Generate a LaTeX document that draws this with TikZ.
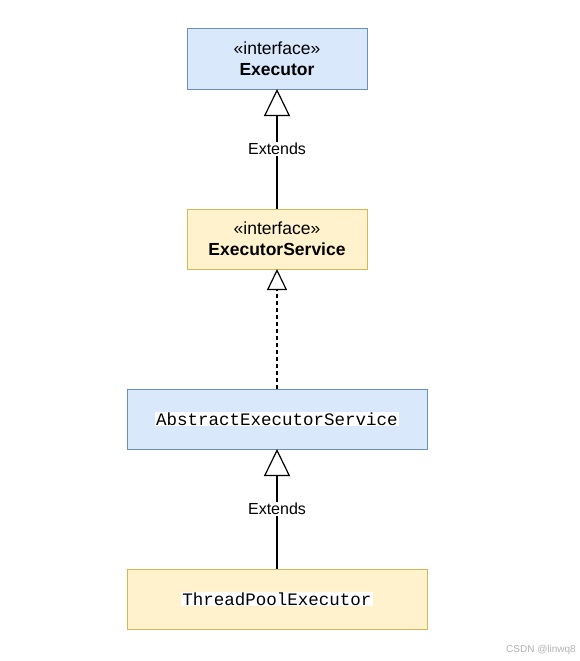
\documentclass[tikz,border=0pt]{standalone}
\usepackage{fontspec}
\setmainfont{Liberation Sans}
\setmonofont{Liberation Mono}
\usepackage{xcolor}
\usepackage{tikz}
\usetikzlibrary{arrows.meta, positioning}

\definecolor{ifill}{HTML}{DAE8FC}
\definecolor{idraw}{HTML}{6C8EBF}
\definecolor{cfill}{HTML}{FFF2CC}
\definecolor{cdraw}{HTML}{D6B656}

\begin{document}
\begin{tikzpicture}[
  box/.style={draw=#1draw, fill=#1fill, line width=1pt, minimum height=60pt, outer sep=0pt,
              font=\fontsize{17.5}{21}\selectfont, align=center, inner sep=2pt},
  narrow/.style={minimum width=180pt},
  wide/.style={minimum width=300pt},
  code/.style={fill=white, inner sep=1pt, font=\ttfamily\fontsize{17.5}{21}\selectfont},
  extends/.style={-{Triangle[open, length=27pt, width=26pt, line width=1.2pt]}, line width=1.2pt},
  realizes/.style={-{Triangle[open, length=21pt, width=20pt, line width=1.2pt]}, line width=1.2pt,
                   dash pattern=on 4pt off 3pt},
  lbl/.style={fill=white, inner sep=1pt, font=\fontsize{16}{18}\selectfont},
]
  \useasboundingbox (0,0) rectangle (580pt,-661pt);

  \node[box=i, narrow] (exec) at (277pt,-59pt) {«interface»\\\textbf{Executor}};
  \node[box=c, narrow, below=120pt of exec] (svc) {«interface»\\\textbf{ExecutorService}};
  \node[box=i, wide, below=120pt of svc] (abs) {};
  \node[code] (abstxt) at (abs) {AbstractExecutorService};
  \node[box=c, wide, below=120pt of abs] (tpe) {};
  \node[code] (tpetxt) at (tpe) {ThreadPoolExecutor};

  \draw[extends] (svc) -- node[lbl]{Extends} (exec);
  \draw[realizes] (abs) -- (svc);
  \draw[extends] (tpe) -- node[lbl]{Extends} (abs);

  \node[text=gray!60, font=\fontsize{10}{12}\selectfont] (mark) at (541pt,-650pt) {CSDN @linwq8};
\end{tikzpicture}
\end{document}
